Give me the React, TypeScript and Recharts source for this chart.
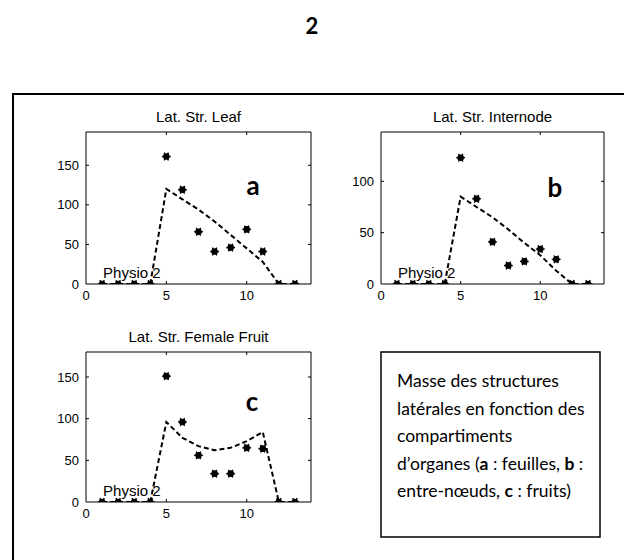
import React from 'react';
import { LineChart, Line, XAxis, YAxis, ReferenceDot, ReferenceLine } from 'recharts';

const xs = [1, 2, 3, 4, 5, 6, 7, 8, 9, 10, 11, 12, 13];
const leafObs = [0, 0, 0, 0, 161, 119, 66, 41, 46, 69, 41, 0, 0];
const leafModel = [0, 0, 0, 0, 120, 107, 94, 79, 62, 45, 28, 0, 0];
const internodeObs = [0, 0, 0, 0, 123, 83, 41, 18, 22, 34, 24, 0, 0];
const internodeModel = [0, 0, 0, 0, 85, 75, 65, 53, 40, 28, 13, 0, 0];
const fruitObs = [0, 0, 0, 0, 151, 96, 56, 34, 34, 65, 64, 0, 0];
const fruitModel = [0, 0, 0, 0, 96, 77, 67, 62, 65, 73, 84, 0, 0];
const xTicks = [0, 5, 10];
const xMax = 14;
const leafYTicks = [0, 50, 100, 150];
const internodeYTicks = [0, 50, 100];
const fruitYTicks = [0, 50, 100, 150];
const leafYMax = 192;
const internodeYMax = 148;
const fruitYMax = 180;
const titles = ['Lat. Str. Leaf', 'Lat. Str. Internode', 'Lat. Str. Female Fruit'];
const panelLetters = ['a', 'b', 'c'];
const annotation = 'Physio 2';
const annotationX = 1.06;

const tickFont = { fontSize: 13, fill: '#000', fontFamily: 'Liberation Sans, Arial, sans-serif' };
const TICK = 3;

const Star = (props: any) => {
  const { cx, cy, index } = props;
  if (cx == null || cy == null) return <g key={index} />;
  const L = 4.4;
  return (
    <g key={index}>
      <circle cx={cx} cy={cy} r={3.3} fill="#000" />
      <line x1={cx - L} y1={cy} x2={cx + L} y2={cy} stroke="#000" strokeWidth={1.4} />
      <line x1={cx - L * 0.5} y1={cy - L * 0.87} x2={cx + L * 0.5} y2={cy + L * 0.87} stroke="#000" strokeWidth={1.4} />
      <line x1={cx + L * 0.5} y1={cy - L * 0.87} x2={cx - L * 0.5} y2={cy + L * 0.87} stroke="#000" strokeWidth={1.4} />
    </g>
  );
};

const PhysioLabel = (props: any) => {
  const { cx, cy } = props;
  return (
    <text x={cx} y={cy - 6} fontSize={15} fill="#000" fontFamily="Liberation Sans, Arial, sans-serif">
      {annotation}
    </text>
  );
};

// vertical reference line drawn only as short inward ticks at both ends
const VTicks = (props: any) => {
  const { x1, y1, x2, y2 } = props;
  const top = Math.min(y1, y2);
  const bot = Math.max(y1, y2);
  return (
    <g>
      <line x1={x1} y1={top} x2={x1} y2={top + TICK} stroke="#000" strokeWidth={1} />
      <line x1={x2} y1={bot} x2={x2} y2={bot - TICK} stroke="#000" strokeWidth={1} />
    </g>
  );
};

const HTicks = (props: any) => {
  const { x1, y1, x2, y2 } = props;
  const l = Math.min(x1, x2);
  const r = Math.max(x1, x2);
  return (
    <g>
      <line x1={l} y1={y1} x2={l + TICK} y2={y1} stroke="#000" strokeWidth={1} />
      <line x1={r} y1={y2} x2={r - TICK} y2={y2} stroke="#000" strokeWidth={1} />
    </g>
  );
};

function Panel(props: {
  obs: number[];
  model: number[];
  yMax: number;
  yTicks: number[];
  left: number;
  top: number;
  margin: { top: number; right: number; left: number; bottom: number };
}) {
  const { obs, model, yMax, yTicks, left, top, margin } = props;
  const data = xs.map((x, i) => ({ x, obs: obs[i], model: model[i] }));
  return (
    <div style={{ position: 'absolute', left, top }}>
      <LineChart width={300} height={210} data={data} margin={margin}>
        <XAxis
          dataKey="x"
          type="number"
          domain={[0, xMax]}
          ticks={xTicks}
          tickSize={0}
          tickMargin={7}
          height={20}
          axisLine={{ stroke: '#000' }}
          tickLine={false}
          tick={tickFont}
          allowDataOverflow
        />
        <YAxis
          type="number"
          domain={[0, yMax]}
          ticks={yTicks}
          width={30}
          tickSize={0}
          tickMargin={7}
          axisLine={{ stroke: '#000' }}
          tickLine={false}
          tick={tickFont}
          allowDataOverflow
        />
        <ReferenceLine y={yMax} stroke="#000" strokeWidth={1} ifOverflow="visible" />
        <ReferenceLine x={xMax} stroke="#000" strokeWidth={1} ifOverflow="visible" />
        {xTicks.filter((t) => t > 0).map((t) => (
          <ReferenceLine key={'vx' + t} x={t} shape={VTicks} ifOverflow="visible" />
        ))}
        {yTicks.filter((t) => t > 0).map((t) => (
          <ReferenceLine key={'hy' + t} y={t} shape={HTicks} ifOverflow="visible" />
        ))}
        <ReferenceDot x={annotationX} y={0} r={0} shape={PhysioLabel} ifOverflow="visible" />
        <Line
          dataKey="model"
          stroke="#000"
          strokeWidth={2}
          strokeDasharray="5 3"
          dot={false}
          activeDot={false}
          isAnimationActive={false}
        />
        <Line
          dataKey="obs"
          stroke="none"
          dot={(p: any) => <Star key={p.index} {...p} />}
          activeDot={false}
          isAnimationActive={false}
        />
      </LineChart>
    </div>
  );
}

export default function App() {
  const sansTitle = 'Liberation Sans, Arial, sans-serif';
  const calibri = 'Lato, Carlito, Calibri, sans-serif';
  return (
    <div
      style={{
        position: 'absolute',
        left: 0,
        top: 0,
        width: 624,
        height: 560,
        overflow: 'hidden',
        background: '#fff',
      }}
    >
      <Panel obs={leafObs} model={leafModel} yMax={leafYMax} yTicks={leafYTicks} left={30} top={100}
        margin={{ top: 32, right: 19, left: 26, bottom: 6 }} />
      <Panel obs={internodeObs} model={internodeModel} yMax={internodeYMax} yTicks={internodeYTicks} left={325} top={100}
        margin={{ top: 32, right: 21, left: 26, bottom: 6 }} />
      <Panel obs={fruitObs} model={fruitModel} yMax={fruitYMax} yTicks={fruitYTicks} left={30} top={320}
        margin={{ top: 32, right: 19, left: 26, bottom: 8 }} />
      <svg width={624} height={560} style={{ position: 'absolute', left: 0, top: 0, pointerEvents: 'none' }}>
        <text x={312} y={34} textAnchor="middle" fontSize={22} fontWeight="bold" fontFamily={calibri} fill="#000">2</text>
        <rect x={13} y={94} width={700} height={600} fill="none" stroke="#000" strokeWidth={2} />
        <text x={198.5} y={121.5} textAnchor="middle" fontSize={15} fontFamily={sansTitle} fill="#000">{titles[0]}</text>
        <text x={492.5} y={121.5} textAnchor="middle" fontSize={15} fontFamily={sansTitle} fill="#000">{titles[1]}</text>
        <text x={198.5} y={342} textAnchor="middle" fontSize={15} fontFamily={sansTitle} fill="#000">{titles[2]}</text>
        <text x={253} y={195} textAnchor="middle" fontSize={26} fontWeight="bold" fontFamily={calibri} fill="#000">{panelLetters[0]}</text>
        <text x={555} y={197} textAnchor="middle" fontSize={26} fontWeight="bold" fontFamily={calibri} fill="#000">{panelLetters[1]}</text>
        <text x={252} y={411} textAnchor="middle" fontSize={26} fontWeight="bold" fontFamily={calibri} fill="#000">{panelLetters[2]}</text>
        <rect x={381} y={352} width={219} height={185} fill="#fff" stroke="#000" strokeWidth={1.5} />
        <g fontSize={17.5} fontFamily={calibri} fill="#000">
          <text x={397} y={387}>Masse des structures</text>
          <text x={397} y={414.5}>latérales en fonction des</text>
          <text x={397} y={442}>compartiments</text>
          <text x={397} y={469.5}>
            d’organes (<tspan fontWeight="bold">a</tspan> : feuilles, <tspan fontWeight="bold">b</tspan> :
          </text>
          <text x={397} y={497}>
            entre-nœuds, <tspan fontWeight="bold">c</tspan> : fruits)
          </text>
        </g>
      </svg>
    </div>
  );
}
